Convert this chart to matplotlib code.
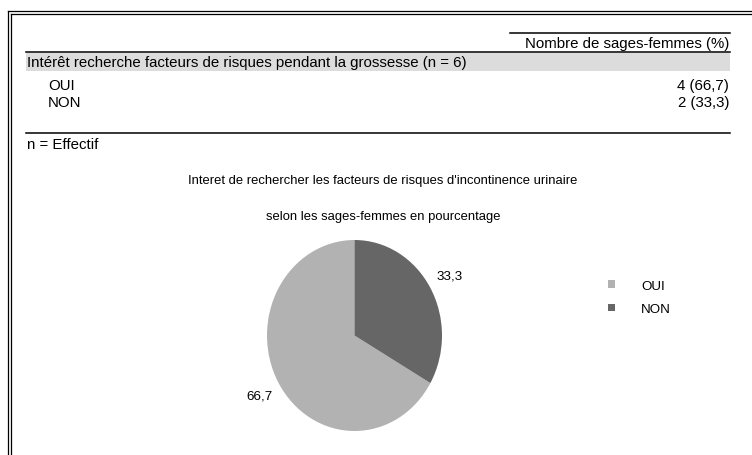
import matplotlib

matplotlib.use("Agg")
import matplotlib.pyplot as plt

plt.rcParams["font.family"] = ["Liberation Sans", "DejaVu Sans"]

# data
question = "Intérêt recherche facteurs de risques pendant la grossesse (n = 6)"
col_header = "Nombre de sages-femmes (%)"
categories = ["OUI", "NON"]
counts = [4, 2]
percents = [66.7, 33.3]
footnote = "n = Effectif"
title_lines = [
    "Interet de rechercher les facteurs de risques d'incontinence urinaire",
    "selon les sages-femmes en pourcentage",
]
colors = ["#b2b2b2", "#666666"]

W, H = 752, 456
INK = "#000000"
FS = 10.8


def fr(v):
    return f"{v:.1f}".replace(".", ",")


fig = plt.figure(figsize=(W / 100, H / 100), dpi=100)
bg = fig.add_axes([0, 0, 1, 1])
bg.set_xlim(0, W)
bg.set_ylim(H, 0)
bg.axis("off")

# double frame on left / top
for x0, y0 in ((8, 12), (11, 15)):
    bg.plot([x0, x0], [y0, H], color=INK, lw=0.9)
    bg.plot([x0, W], [y0, y0], color=INK, lw=0.9)

# table
left, right = 26, 730
bg.plot([510, right], [34, 34], color=INK, lw=1.1)
bg.text(right - 1, 44, col_header, ha="right", va="center", fontsize=FS)
bg.plot([left, right], [53, 53], color=INK, lw=1.1)
bg.fill_between([left, right], 54, 71.5, color="#dcdcdc", lw=0)
bg.text(left + 1, 63, question, ha="left", va="center", fontsize=FS)
for i, (cat, n, p) in enumerate(zip(categories, counts, percents)):
    y = 86 + i * 17
    bg.text(48, y, cat, ha="left", va="center", fontsize=FS)
    bg.text(right - 1, y, f"{n} ({fr(p)})", ha="right", va="center", fontsize=FS)
bg.plot([left, right], [134, 134], color=INK, lw=1.1)
bg.text(left + 1, 145, footnote, ha="left", va="center", fontsize=FS)

# chart title
for j, line in enumerate(title_lines):
    bg.text(383, 181 + j * 36, line, ha="center", va="center", fontsize=9.4)

# pie (slightly taller than wide, as in the original)
pie_ax = fig.add_axes([267 / W, (H - 432) / H, 175 / W, 191 / H])
wedges, texts = pie_ax.pie(
    percents,
    labels=[fr(p) for p in percents],
    colors=colors,
    startangle=90,
    counterclock=True,
    labeldistance=1.26,
    wedgeprops=dict(linewidth=0),
    textprops=dict(fontsize=9.6),
)
for t in texts:
    t.set_ha("center")
    t.set_va("center")
pie_ax.set_aspect("auto")
pie_ax.set_xlim(-1, 1)
pie_ax.set_ylim(-1, 1)

leg = fig.legend(
    wedges,
    categories,
    loc="upper left",
    bbox_to_anchor=(608 / W, 1 - 281 / H),
    frameon=False,
    fontsize=9.6,
    handlelength=0.5,
    handleheight=0.5,
    handletextpad=2.0,
    labelspacing=0.85,
    borderpad=0,
    borderaxespad=0,
)

fig.savefig("out.png", dpi=100)
